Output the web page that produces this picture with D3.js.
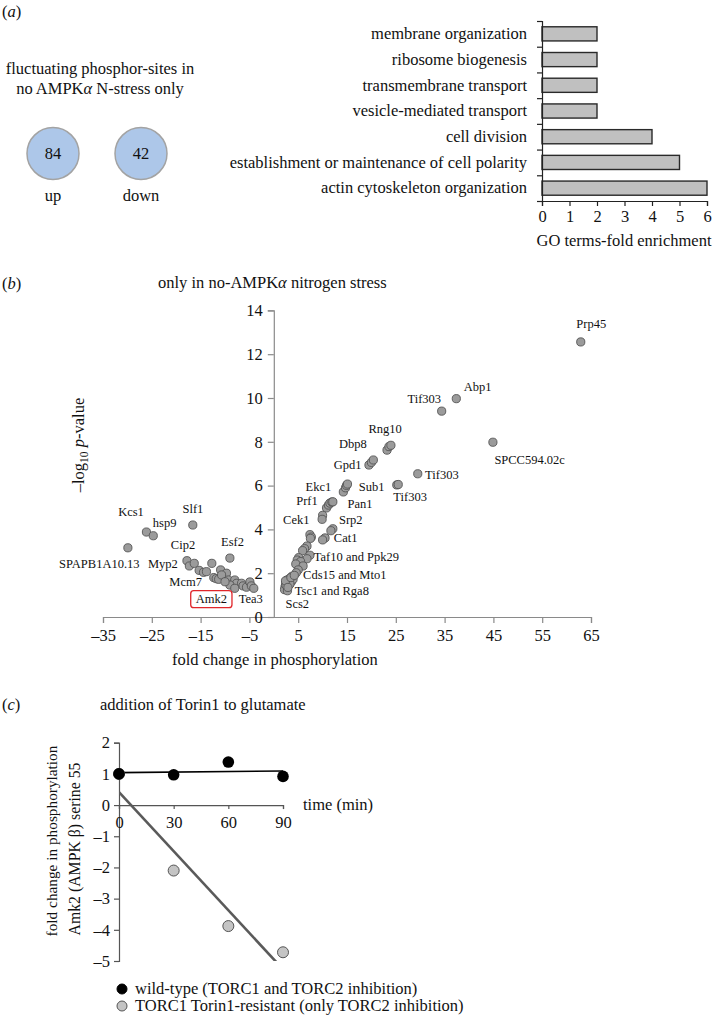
<!DOCTYPE html>
<html><head><meta charset="utf-8">
<script src="https://cdn.jsdelivr.net/npm/d3@7"></script>
<style>
body{margin:0;background:#fff}
svg{display:block}
text{font-family:"Liberation Serif","Times New Roman",serif;fill:#111}
</style>
</head><body>
<svg id="fig" width="713" height="1027"></svg>
<script>
// ---------- data ----------
const circleLabels = ["up", "down"];
const circleCounts = [84, 42];

const goTerms = ["membrane organization", "ribosome biogenesis", "transmembrane transport",
  "vesicle-mediated transport", "cell division", "establishment or maintenance of cell polarity",
  "actin cytoskeleton organization"];
const goFold = [2, 2, 2, 2, 4, 5, 6];
const goTicks = [0, 1, 2, 3, 4, 5, 6];

const volcanoFold = [62.9, 37.4, 34.4, 44.9, 29.5, 25.2, 25.5, 23.2, 23.6, 24.0, 19.5, 20.0, 20.4,
  14.25, 14.7, 14.9, 15.1, 10.8, 11.2, 11.5, 11.9, 12.1, 10.0, 9.9, 12.1, 11.7, 10.5, 10.0,
  7.4, 7.7, 7.5, 6.8, 6.3, 5.9, 7.4, 6.8, 5.1, 4.8, 5.5, 4.5, 6.0, 5.0, 4.6, 3.75, 3.3, 2.7,
  2.45, 2.3, 2.7, 3.05, 3.6, 3.95, 2.2, 2.5, 3.0, 2.8, 3.3, 2.4, 3.5, 4.2, 2.9,
  -29.9, -26.1, -24.7, -16.6, -9.0, -17.8, -17.3, -16.3, -15.3, -14.4, -12.7, -12.3, -11.8,
  -11.3, -10.9, -9.7, -10.7, -9.3, -8.0, -7.6, -6.6, -6.3, -5.6, -4.9, -4.6, -4.1, -9.0, -8.0,
  -10.0, -13.8];
const volcanoLogP = [12.56, 9.97, 9.4, 7.98, 6.54, 6.03, 6.05, 7.62, 7.78, 7.84, 6.94, 7.06, 7.17,
  5.71, 5.90, 6.01, 6.07, 4.98, 5.11, 5.2, 5.25, 5.26, 4.64, 4.46, 4.03, 3.94, 3.61, 3.52,
  3.76, 3.65, 3.59, 3.24, 3.12, 3.03, 2.82, 2.66, 2.71, 2.6, 2.53, 2.42, 2.33, 2.15, 2.02, 1.86,
  1.77, 1.69, 1.54, 1.38, 1.31, 1.46, 1.61, 1.72, 1.25, 1.45, 1.6, 1.2, 1.5, 1.65, 1.8, 1.9, 1.35,
  3.16, 3.88, 3.71, 4.2, 2.69, 2.57, 2.33, 2.45, 2.13, 2.04, 2.45, 1.8, 1.75, 1.72, 2.15, 2.0,
  1.92, 1.69, 1.69, 1.54, 1.54, 1.42, 1.36, 1.6, 1.42, 1.31, 1.46, 1.31, 1.61, 2.07];

const geneNames = ["Prp45", "Abp1", "Tif303", "SPCC594.02c", "Tif303", "Tif303", "Rng10", "Dbp8",
  "Gpd1", "Ekc1", "Sub1", "Prf1", "Pan1", "Cek1", "Srp2", "Cat1", "Taf10 and Ppk29",
  "Cds15 and Mto1", "Tsc1 and Rga8", "Scs2", "Kcs1", "hsp9", "Slf1", "Cip2", "Esf2",
  "SPAPB1A10.13", "Myp2", "Mcm7", "Amk2", "Tea3"];
const geneLabelFold = [62.0, 38.9, 27.4, 45.2, 31.0, 24.5, 19.4, 13.35, 12.3, 6.5, 17.4, 4.6, 15.1,
  1.9, 13.35, 12.3, 8.2, 6.0, 4.3, 2.4, -31.9, -24.8, -18.7, -21.1, -10.8, -44.0, -25.8, -21.4,
  -16.0, -7.2];
const geneLabelLogP = [13.2, 10.3, 9.77, 6.99, 6.30, 5.28, 8.40, 7.70, 6.76, 5.77, 5.74, 5.13, 4.98,
  4.25, 4.25, 3.44, 2.54, 1.72, 1.02, 0.40, 4.63, 4.12, 4.74, 3.1, 3.23, 2.24, 2.24, 1.43,
  0.63, 0.62];
const highlightedGene = "Amk2";
const volcanoXTicks = [-35, -25, -15, -5, 5, 15, 25, 35, 45, 55, 65];
const volcanoYTicks = [0, 2, 4, 6, 8, 10, 12, 14];

const timeMin = [0, 30, 60, 90];
const wildType = [1.0, 0.97, 1.38, 0.92];
const torinResistant = [1.0, -2.1, -3.88, -4.72];
const seriesNames = ["wild-type (TORC1 and TORC2 inhibition)",
  "TORC1 Torin1-resistant (only TORC2 inhibition)"];
const timeTicks = [0, 30, 60, 90];
const foldTicks = [-5, -4, -3, -2, -1, 0, 1, 2];

// ---------- drawing ----------
const svg = d3.select("#fig");
const FS = 16.5;
const minus = d => d < 0 ? "\u2013" + (-d) : String(d);

function panelLetter(x, y, letter) {
  const t = svg.append("text").attr("x", x).attr("y", y).attr("font-size", FS);
  t.append("tspan").text("(");
  t.append("tspan").attr("font-style", "italic").text(letter);
  t.append("tspan").text(")");
}

// ===== Panel (a) =====
panelLetter(2, 17, "a");
svg.append("text").attr("x", 100).attr("y", 74).attr("text-anchor", "middle")
  .attr("font-size", FS).text("fluctuating phosphor-sites in");
const t2 = svg.append("text").attr("x", 100).attr("y", 94).attr("text-anchor", "middle").attr("font-size", FS);
t2.append("tspan").text("no AMPK");
t2.append("tspan").attr("font-style", "italic").text("\u03b1");
t2.append("tspan").text(" N-stress only");

const cx = d3.scalePoint().domain(circleLabels).range([53, 141]);
const cg = svg.append("g");
circleLabels.forEach((lab, i) => {
  cg.append("circle").attr("cx", cx(lab)).attr("cy", 153.5).attr("r", 26)
    .attr("fill", "#adc7e9").attr("stroke", "#a3a3a3").attr("stroke-width", 1.5);
  cg.append("text").attr("x", cx(lab)).attr("y", 159).attr("text-anchor", "middle")
    .attr("font-size", FS).text(circleCounts[i]);
  cg.append("text").attr("x", cx(lab)).attr("y", 201).attr("text-anchor", "middle")
    .attr("font-size", FS).text(lab);
});

const bx = d3.scaleLinear().domain([0, 6]).range([542, 707]);
const by = d3.scaleBand().domain(goTerms).range([21, 201]).paddingInner(0.45).paddingOuter(0.225);
const ga = svg.append("g");
ga.selectAll("rect").data(goTerms).join("rect")
  .attr("x", bx(0)).attr("y", d => by(d)).attr("width", (d, i) => bx(goFold[i]) - bx(0))
  .attr("height", by.bandwidth()).attr("fill", "#c0c0c0").attr("stroke", "#2a2a2a").attr("stroke-width", 1.4);
const yAx = ga.append("g").attr("transform", `translate(${bx(0)},0)`)
  .call(d3.axisLeft(by).tickSize(0).tickPadding(15));
yAx.select(".domain").remove();
yAx.selectAll("text").attr("font-size", FS).attr("fill", "#111");
const byEdge = d3.scaleLinear().domain([0, goTerms.length]).range([21, 201]);
const yEdge = ga.append("g").attr("transform", `translate(${bx(0)},0)`)
  .call(d3.axisLeft(byEdge).ticks(goTerms.length).tickSize(5).tickFormat(""));
yEdge.selectAll("path,line").attr("stroke", "#222").attr("stroke-width", 1.2);
const xAx = ga.append("g").attr("transform", "translate(0,201)")
  .call(d3.axisBottom(bx).tickValues(goTicks).tickSize(5).tickPadding(4).tickFormat(d3.format("d")));
xAx.selectAll("path,line").attr("stroke", "#222").attr("stroke-width", 1.2);
xAx.selectAll("text").attr("font-size", FS).attr("fill", "#111");
ga.append("text").attr("x", 624).attr("y", 246).attr("text-anchor", "middle").attr("font-size", FS)
  .text("GO terms-fold enrichment");

// ===== Panel (b) =====
panelLetter(2, 289, "b");
const tb = svg.append("text").attr("x", 158).attr("y", 288).attr("font-size", FS);
tb.append("tspan").text("only in no-AMPK");
tb.append("tspan").attr("font-style", "italic").text("\u03b1");
tb.append("tspan").text(" nitrogen stress");

const vx = d3.scaleLinear().domain([-35, 65]).range([103, 591]);
const vy = d3.scaleLinear().domain([0, 14]).range([617, 310.4]);
const gb = svg.append("g");
const vxAx = gb.append("g").attr("transform", `translate(0,${vy(0)})`)
  .call(d3.axisBottom(vx).tickValues(volcanoXTicks).tickSize(6).tickPadding(6).tickFormat(minus));
vxAx.selectAll("path,line").attr("stroke", "#8a8a8a").attr("stroke-width", 1.2);
vxAx.selectAll("text").attr("font-size", FS).attr("fill", "#111");
const vyAx = gb.append("g").attr("transform", `translate(${vx(0)},0)`)
  .call(d3.axisLeft(vy).tickValues(volcanoYTicks).tickSize(6).tickPadding(5));
vyAx.selectAll("path,line").attr("stroke", "#8a8a8a").attr("stroke-width", 1.2);
vyAx.selectAll("text").attr("font-size", FS).attr("fill", "#111");

gb.append("g").selectAll("circle").data(volcanoFold).join("circle")
  .attr("cx", d => vx(d)).attr("cy", (d, i) => vy(volcanoLogP[i])).attr("r", 4.1)
  .attr("fill", "#9b9b9b").attr("stroke", "#555").attr("stroke-width", 0.9);

const lab = gb.append("g");
geneNames.forEach((n, i) => {
  const t = lab.append("text").attr("x", vx(geneLabelFold[i])).attr("y", vy(geneLabelLogP[i]))
    .attr("font-size", 12.5).text(n);
  if (n === highlightedGene) {
    const bb = t.node().getBBox();
    lab.append("rect").attr("x", bb.x - 5).attr("y", bb.y - 1.5).attr("width", bb.width + 10)
      .attr("height", bb.height + 3).attr("rx", 3).attr("fill", "none")
      .attr("stroke", "#e0262b").attr("stroke-width", 1.3);
  }
});

gb.append("text").attr("x", 172).attr("y", 665).attr("font-size", FS).text("fold change in phosphorylation");
const yl = gb.append("text").attr("transform", "translate(84,445) rotate(-90)")
  .attr("text-anchor", "middle").attr("font-size", FS);
yl.append("tspan").text("\u2013log");
yl.append("tspan").attr("font-size", 11.5).attr("dy", 4).text("10");
yl.append("tspan").attr("dy", -4).text(" ");
yl.append("tspan").attr("font-style", "italic").text("p");
yl.append("tspan").text("-value");

// ===== Panel (c) =====
panelLetter(2, 710, "c");
svg.append("text").attr("x", 100).attr("y", 710).attr("font-size", FS).text("addition of Torin1 to glutamate");

const tx = d3.scaleLinear().domain([0, 90]).range([119, 283]);
const ty = d3.scaleLinear().domain([-5, 2]).range([961, 742.7]);
const gc = svg.append("g");
const cyAx = gc.append("g").attr("transform", `translate(${tx(0)},0)`)
  .call(d3.axisLeft(ty).tickValues(foldTicks).tickSize(5).tickPadding(4).tickFormat(minus));
cyAx.selectAll("path,line").attr("stroke", "#555").attr("stroke-width", 1.2);
cyAx.selectAll("text").attr("font-size", FS).attr("fill", "#111");
const cxAx = gc.append("g").attr("transform", `translate(0,${ty(0)})`)
  .call(d3.axisBottom(tx).tickValues(timeTicks).tickSize(4).tickPadding(7));
cxAx.selectAll("path,line").attr("stroke", "#555").attr("stroke-width", 1.2);
cxAx.selectAll("text").attr("font-size", FS).attr("fill", "#111");
gc.append("text").attr("x", 303).attr("y", 810).attr("font-size", FS).text("time (min)");

gc.append("text").attr("transform", "translate(57,841) rotate(-90)")
  .attr("text-anchor", "middle").attr("font-size", 15.3).text("fold change in phosphorylation");
gc.append("text").attr("transform", "translate(80,849) rotate(-90)")
  .attr("text-anchor", "middle").attr("font-size", 15.8).text("Amk2 (AMPK \u03b2) serine 55");

function fit(xs, ys) {
  const mx = d3.mean(xs), my = d3.mean(ys);
  const sxy = d3.sum(xs, (x, i) => (x - mx) * (ys[i] - my));
  const sxx = d3.sum(xs, x => (x - mx) * (x - mx));
  const b = sxy / sxx;
  return {a: my - b * mx, b};
}
gc.append("clipPath").attr("id", "clipc").append("rect")
  .attr("x", tx(0)).attr("y", ty(2)).attr("width", tx(90) - tx(0) + 10).attr("height", ty(-5) - ty(2));
const line = d3.line().x(d => tx(d[0])).y(d => ty(d[1]));
const fr = fit(timeMin, torinResistant);
const fw = fit(timeMin, wildType);
gc.append("path").attr("clip-path", "url(#clipc)")
  .attr("d", line([[0, fr.a], [90, fr.a + 90 * fr.b]]))
  .attr("stroke", "#5a5a5a").attr("stroke-width", 2.6).attr("fill", "none");
gc.append("path").attr("d", line([[0, fw.a], [90, fw.a + 90 * fw.b]]))
  .attr("stroke", "#000").attr("stroke-width", 1.6).attr("fill", "none");
gc.append("g").selectAll("circle").data(timeMin).join("circle")
  .attr("cx", d => tx(d)).attr("cy", (d, i) => ty(torinResistant[i])).attr("r", 5.5)
  .attr("fill", "#c4c4c4").attr("stroke", "#555").attr("stroke-width", 1);
gc.append("g").selectAll("circle").data(timeMin).join("circle")
  .attr("cx", d => tx(d)).attr("cy", (d, i) => ty(wildType[i])).attr("r", 5.8)
  .attr("fill", "#000");

// legend
const lg = svg.append("g");
seriesNames.forEach((n, i) => {
  const y = 989 + i * 17;
  lg.append("circle").attr("cx", 122).attr("cy", y).attr("r", 5)
    .attr("fill", i === 0 ? "#000" : "#c4c4c4").attr("stroke", i === 0 ? "#000" : "#555");
  lg.append("text").attr("x", 135).attr("y", y + 5).attr("font-size", FS).text(n);
});
</script>
</body></html>
